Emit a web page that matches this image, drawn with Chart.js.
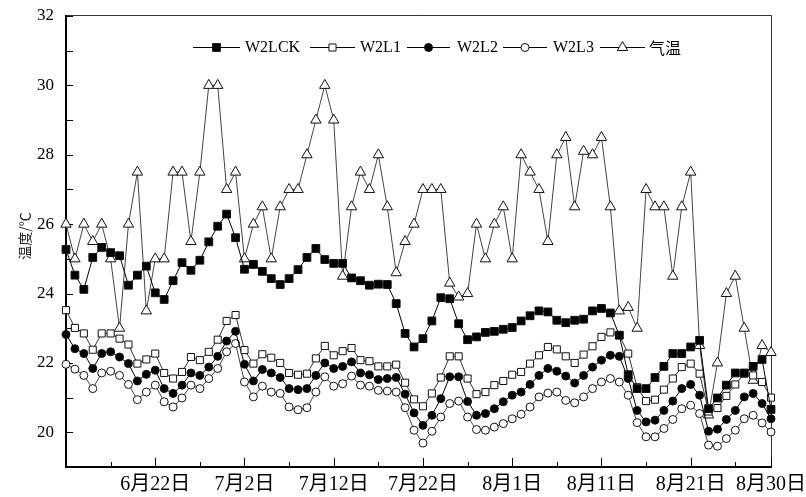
<!DOCTYPE html>
<html>
<head>
<meta charset="utf-8">
<script src="https://cdn.jsdelivr.net/npm/chart.js@4.4.0/dist/chart.umd.min.js"></script>
<style>
  html, body { margin: 0; padding: 0; background: #fff; }
  #wrap { width: 806px; height: 497px; }
</style>
</head>
<body>
<div id="wrap"><canvas id="c" width="806" height="497"></canvas></div>
<script>
// Daily soil / air temperatures, day 0 = 6月12日 ... day 79 = 8月30日
const W2LCK = [25.27,24.53,24.12,25.04,25.33,25.18,25.09,24.24,24.53,24.79,
  24.02,23.83,24.37,24.89,24.67,24.96,25.49,25.94,26.29,25.61,
  24.70,24.84,24.64,24.43,24.26,24.43,24.69,25.04,25.30,24.98,
  24.87,24.87,24.45,24.37,24.24,24.27,24.26,23.71,22.85,22.46,
  22.70,23.21,23.88,23.85,23.13,22.67,22.75,22.88,22.91,22.97,
  23.02,23.21,23.36,23.50,23.47,23.23,23.16,23.23,23.26,23.50,
  23.57,23.44,22.80,21.66,21.26,21.26,21.58,21.90,22.27,22.27,
  22.46,22.65,20.68,20.99,21.36,21.71,21.71,21.90,22.10,20.66];

const W2L1 = [23.52,23.01,22.85,22.38,22.85,22.85,22.70,22.53,21.98,22.10,
  22.27,21.71,21.55,21.74,22.17,22.08,22.32,22.67,23.21,23.38,
  22.37,21.98,22.25,22.15,22.00,21.71,21.66,21.69,22.13,22.49,
  22.22,22.34,22.43,22.08,22.05,21.90,21.90,21.95,21.43,20.95,
  20.75,21.12,21.58,22.19,22.19,21.55,21.10,21.16,21.36,21.48,
  21.66,21.74,21.98,22.22,22.46,22.39,22.19,22.00,22.24,22.48,
  22.75,22.88,22.80,22.27,21.30,20.90,20.94,21.23,21.55,21.88,
  21.98,21.69,20.60,20.70,21.05,21.38,21.69,21.64,21.45,21.00];

const W2L2 = [22.82,22.41,22.27,21.84,22.27,22.32,22.17,21.98,21.48,21.67,
  21.79,21.26,21.12,21.36,21.71,21.64,21.88,22.19,22.63,22.91,
  21.96,21.48,21.81,21.71,21.58,21.26,21.23,21.26,21.64,22.00,
  21.84,21.90,22.03,21.71,21.66,21.52,21.55,21.58,21.10,20.56,
  20.20,20.49,20.97,21.60,21.60,20.89,20.49,20.54,20.68,20.88,
  21.07,21.16,21.38,21.64,21.84,21.76,21.62,21.42,21.64,21.88,
  22.08,22.22,22.19,21.55,20.63,20.30,20.35,20.63,20.90,21.26,
  21.38,21.07,20.03,20.09,20.37,20.63,21.02,21.12,20.83,20.39];

const W2L3 = [21.96,21.82,21.64,21.26,21.71,21.76,21.64,21.38,20.94,21.16,
  21.36,20.88,20.73,20.99,21.36,21.26,21.55,21.84,22.32,22.56,
  21.45,21.02,21.33,21.16,21.12,20.73,20.65,20.71,21.16,21.60,
  21.33,21.40,21.62,21.36,21.33,21.21,21.19,21.16,20.71,20.06,
  19.69,20.03,20.44,20.83,20.90,20.44,20.08,20.06,20.15,20.25,
  20.39,20.52,20.73,21.02,21.13,21.16,20.92,20.85,21.02,21.26,
  21.45,21.55,21.45,21.07,20.28,19.87,19.87,20.11,20.37,20.68,
  20.78,20.54,19.63,19.60,19.82,20.06,20.39,20.49,20.27,20.01];

const airTemp = [26,25,26,25.5,26,25,23,26,27.5,23.5,
  25,25,27.5,27.5,25.5,27.5,30,30,27,27.5,
  25,26,26.5,25,26.5,27,27,28,29,30,
  29,24.5,26.5,27.5,27,28,26.5,24.6,25.5,26,
  27,27,27,24.3,23.9,24.0,26,25,26,26.5,
  25,28,27.5,27,25.5,28,28.5,26.5,28.1,28,
  28.5,26.5,23.5,23.6,23,27,26.5,26.5,24.5,26.5,
  27.5,22.5,20.5,22,24,24.5,23,21.5,22.5,22.3];

const seriesNames = ['W2LCK', 'W2L1', 'W2L2', 'W2L3', '气温'];

// x axis: day index of labelled (major) and minor ticks
const xMajorTicks = [10, 20, 30, 40, 50, 60, 70, 79];
const xTickLabels = ['6月22日', '7月2日', '7月12日', '7月22日', '8月1日', '8月11日', '8月21日', '8月30日'];
const xMinorTicks = [5, 15, 25, 35, 45, 55, 65, 75];
// y axis
const yTickLabels = [20, 22, 24, 26, 28, 30, 32];
const yMinorTicks = [19, 21, 23, 25, 27, 29, 31];

const toPoints = arr => arr.map((v, i) => ({ x: i, y: v }));

const styles = [
  { pointStyle: 'rect',     radius: 5.5, fill: '#000', line: '#000' },
  { pointStyle: 'rect',     radius: 5,   fill: '#fff', line: '#333' },
  { pointStyle: 'circle',   radius: 4,   fill: '#000', line: '#000' },
  { pointStyle: 'circle',   radius: 4,   fill: '#fff', line: '#444' },
  { pointStyle: 'triangle', radius: 6,   fill: '#fff', line: '#444' }
];

const values = [W2LCK, W2L1, W2L2, W2L3, airTemp];

const datasets = values.map((arr, k) => ({
  label: seriesNames[k],
  data: toPoints(arr),
  borderColor: styles[k].line,
  borderWidth: 1,
  pointStyle: styles[k].pointStyle,
  pointRadius: styles[k].radius,
  pointBackgroundColor: styles[k].fill,
  pointBorderColor: '#111',
  pointBorderWidth: 1,
  tension: 0,
  clip: false
}));

const SERIF = '"Liberation Serif", "Noto Sans CJK SC", serif';

function marker(ctx, st, x, y) {
  ctx.save();
  ctx.fillStyle = st.fill;
  ctx.strokeStyle = '#111';
  ctx.lineWidth = 1;
  ctx.beginPath();
  const r = st.radius;
  if (st.pointStyle === 'rect') {
    const s = r * Math.SQRT1_2;
    ctx.rect(x - s, y - s, 2 * s, 2 * s);
  } else if (st.pointStyle === 'circle') {
    ctx.arc(x, y, r, 0, Math.PI * 2);
  } else {
    const w = r * Math.sqrt(3);
    ctx.moveTo(x, y - r);
    ctx.lineTo(x + w / 2, y + r / 2);
    ctx.lineTo(x - w / 2, y + r / 2);
    ctx.closePath();
  }
  ctx.fill();
  ctx.stroke();
  ctx.restore();
}

// frame, inward ticks, tick labels, axis title and legend
const decor = {
  id: 'decor',
  beforeDatasetsDraw(chart) {
    const { ctx, chartArea: a, scales: { x, y } } = chart;
    ctx.save();
    ctx.strokeStyle = '#333';
    ctx.lineWidth = 1;
    ctx.beginPath();
    ctx.moveTo(a.left, a.top - 0.5);
    ctx.lineTo(a.right + 0.5, a.top - 0.5);
    ctx.lineTo(a.right + 0.5, a.bottom);
    ctx.stroke();

    ctx.strokeStyle = '#000';
    ctx.beginPath();
    yTickLabels.concat(yMinorTicks).forEach(v => {
      const py = Math.round(y.getPixelForValue(v)) + 0.5;
      ctx.moveTo(a.left, py);
      ctx.lineTo(a.left + 7, py);
    });
    xMajorTicks.forEach(v => {
      const px = Math.round(x.getPixelForValue(v)) + 0.5;
      ctx.moveTo(px, a.bottom);
      ctx.lineTo(px, a.bottom - 9);
    });
    xMinorTicks.forEach(v => {
      const px = Math.round(x.getPixelForValue(v)) + 0.5;
      ctx.moveTo(px, a.bottom);
      ctx.lineTo(px, a.bottom - 5);
    });
    ctx.stroke();

    ctx.lineWidth = 2;
    ctx.beginPath();
    ctx.moveTo(a.left, a.top - 1);
    ctx.lineTo(a.left, a.bottom);
    ctx.lineTo(a.right + 1, a.bottom);
    ctx.stroke();

    // tick labels
    ctx.fillStyle = '#000';
    ctx.font = '17px ' + SERIF;
    ctx.textAlign = 'right';
    ctx.textBaseline = 'middle';
    yTickLabels.forEach(v => ctx.fillText(String(v), 54, y.getPixelForValue(v)));

    ctx.font = '20px ' + SERIF;
    ctx.textAlign = 'center';
    xMajorTicks.forEach((v, i) => ctx.fillText(xTickLabels[i], x.getPixelForValue(v), 485));

    // y axis title
    ctx.save();
    ctx.translate(25, 236);
    ctx.rotate(-Math.PI / 2);
    ctx.font = '14px "Noto Sans CJK SC", sans-serif';
    ctx.fillStyle = '#222';
    ctx.fillText('温度/℃', 0, 0);
    ctx.restore();
    ctx.restore();
  },
  afterDraw(chart) {
    const { ctx } = chart;
    const ly = 47;
    const items = [
      { x0: 193, x1: 240, tx: 245 },
      { x0: 310, x1: 355, tx: 360 },
      { x0: 407, x1: 450, tx: 457 },
      { x0: 503, x1: 547, tx: 553 },
      { x0: 600, x1: 645, tx: 649 }
    ];
    ctx.save();
    items.forEach((it, k) => {
      ctx.strokeStyle = '#000';
      ctx.lineWidth = 1;
      ctx.beginPath();
      ctx.moveTo(it.x0, ly + 0.5);
      ctx.lineTo(it.x1, ly + 0.5);
      ctx.stroke();
      marker(ctx, styles[k], (it.x0 + it.x1) / 2, ly + 0.5);
      ctx.fillStyle = '#000';
      ctx.font = (k === 4 ? '16px "Noto Sans CJK SC", sans-serif' : '16px ' + SERIF);
      ctx.textAlign = 'left';
      ctx.textBaseline = 'middle';
      ctx.fillText(seriesNames[k], it.tx, ly + 1);
    });
    ctx.restore();
  }
};

new Chart(document.getElementById('c'), {
  type: 'line',
  data: { datasets },
  options: {
    responsive: false,
    animation: false,
    devicePixelRatio: 1,
    layout: { padding: { left: 66, right: 35, top: 16, bottom: 30 } },
    plugins: { legend: { display: false }, tooltip: { enabled: false } },
    scales: {
      x: { type: 'linear', min: 0, max: 79, display: false },
      y: { type: 'linear', min: 19, max: 32, display: false }
    }
  },
  plugins: [decor]
});
</script>
</body>
</html>
